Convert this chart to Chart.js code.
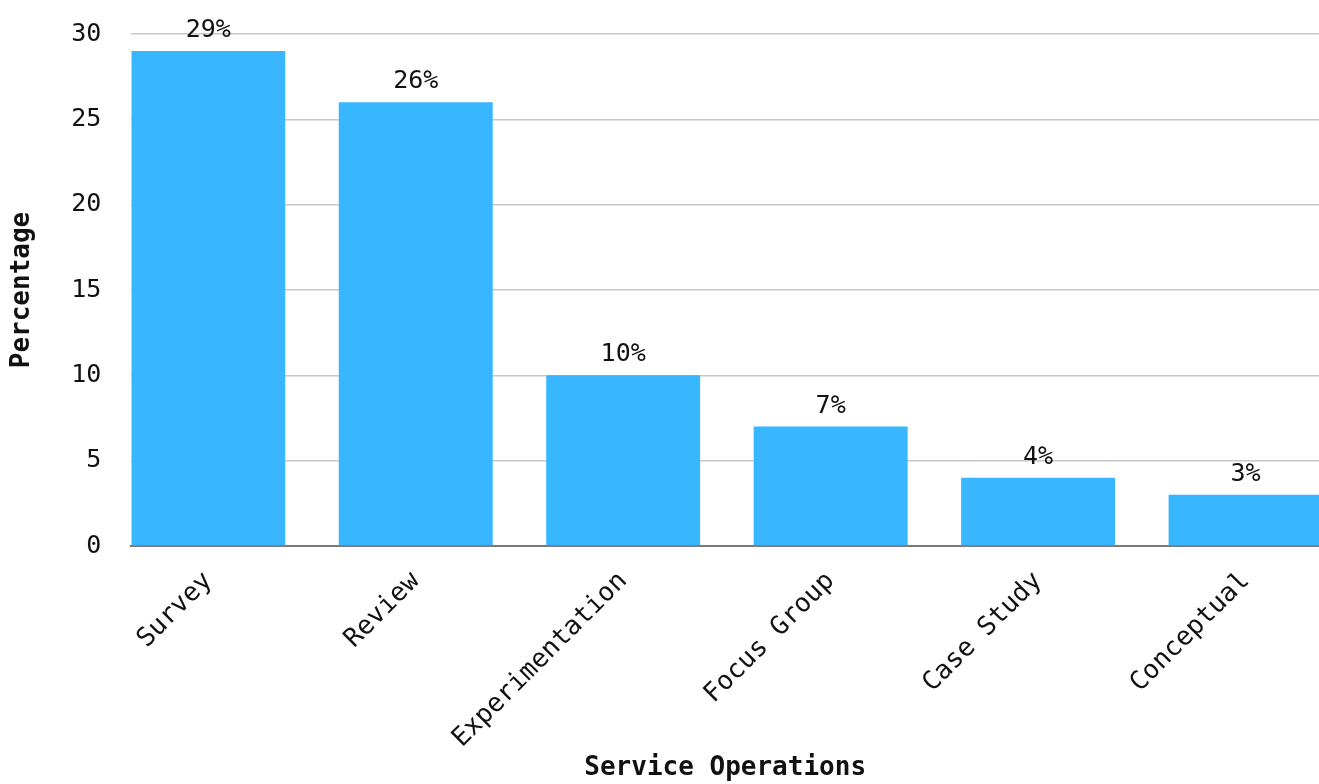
<!DOCTYPE html>
<html>
<head>
<meta charset="utf-8">
<script src="https://cdn.jsdelivr.net/npm/chart.js@4"></script>
<style>
  html, body { margin: 0; padding: 0; background: #fff; }
  #wrap { width: 1319px; height: 784px; }
</style>
</head>
<body>
<div id="wrap"><canvas id="methodsChart" width="1319" height="784"></canvas></div>
<script>
// research methods and their share (%)
const methods = ['Survey', 'Review', 'Experimentation', 'Focus Group', 'Case Study', 'Conceptual']
const shares = [29, 26, 10, 7, 4, 3]
const yTicks = [0, 5, 10, 15, 20, 25, 30]

const FONT = '"DejaVu Sans Mono", "Liberation Mono", monospace'
const BAR_COLOR = '#38b6ff'

// writes "NN%" above every bar
const valueLabels = {
  id: 'valueLabels',
  afterDatasetsDraw(chart) {
    const ctx = chart.ctx
    const meta = chart.getDatasetMeta(0)
    ctx.save()
    ctx.font = '25px ' + FONT
    ctx.fillStyle = '#111'
    ctx.textAlign = 'center'
    ctx.textBaseline = 'alphabetic'
    meta.data.forEach((bar, i) => {
      ctx.fillText(shares[i] + '%', bar.x, bar.y - 14)
    })
    ctx.restore()
  }
}

const ctx = document.getElementById('methodsChart')
new Chart(ctx, {
  type: 'bar',
  data: {
    datasets: [{
      label: 'Percentage',
      data: shares.map((v, i) => ({ x: i, y: v })),
      backgroundColor: BAR_COLOR,
      borderWidth: 0,
      barPercentage: 0.742,
      categoryPercentage: 1
    }]
  },
  options: {
    responsive: false,
    animation: false,
    devicePixelRatio: 1,
    layout: { padding: { top: 0, right: 0, left: 7, bottom: 0 } },
    plugins: {
      legend: { display: false },
      tooltip: { enabled: false }
    },
    scales: {
      x: {
        type: 'linear',
        offset: false,
        min: -0.371,
        max: 5.354,
        afterBuildTicks: (axis) => { axis.ticks = methods.map((m, i) => ({ value: i })) },
        // fixed height so the rotated labels and title fit below the bars
        afterFit: (axis) => { axis.height = 238 },
        grid: { display: false, drawTicks: false },
        border: { display: true, color: '#7a7a7a', width: 2 },
        ticks: {
          callback: (v) => methods[v],
          minRotation: 45,
          maxRotation: 45,
          autoSkip: false,
          padding: 20,
          color: '#111',
          font: { family: FONT, size: 26 }
        },
        title: {
          display: true,
          text: 'Service Operations',
          color: '#111',
          font: { family: FONT, size: 26, weight: 'bold' },
          padding: { top: 0, bottom: 0 }
        }
      },
      y: {
        min: 0,
        max: 30,
        afterBuildTicks: (axis) => { axis.ticks = yTicks.map(v => ({ value: v })) },
        // invisible tick marks keep the labels away from the grid
        grid: { color: '#c8c8c8', lineWidth: 1.5, drawTicks: true, tickLength: 11, tickColor: 'rgba(0,0,0,0)' },
        border: { display: false },
        ticks: {
          padding: 19,
          color: '#111',
          font: { family: FONT, size: 25 }
        },
        title: {
          display: true,
          text: 'Percentage',
          color: '#111',
          font: { family: FONT, size: 26, weight: 'bold' },
          padding: { top: 0, bottom: 14 }
        }
      }
    }
  },
  plugins: [valueLabels]
})
</script>
</body>
</html>
